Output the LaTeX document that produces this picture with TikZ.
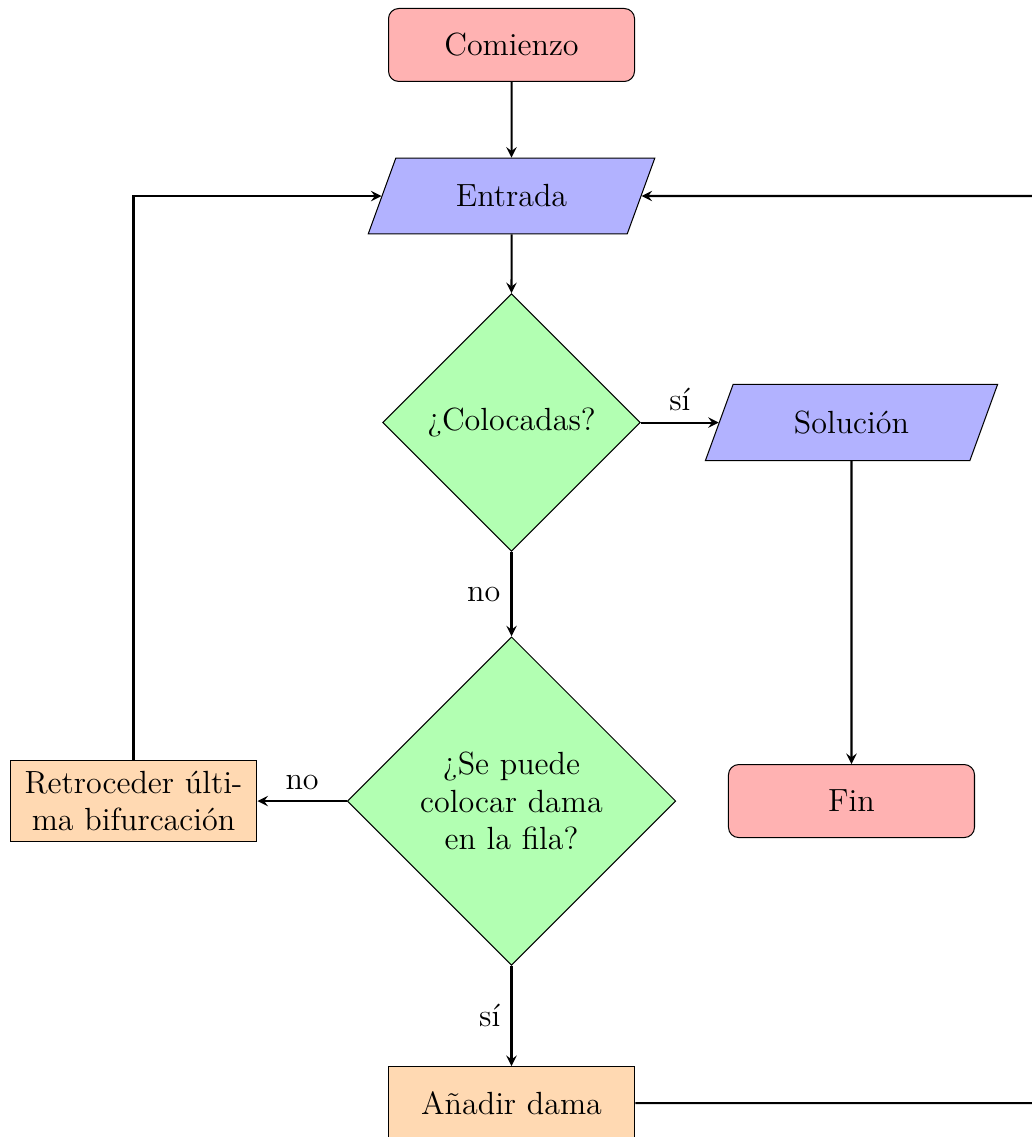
\documentclass[tikz,border=0pt,12pt]{standalone}
\usepackage{amsmath}
\usetikzlibrary{shapes.geometric}
\usetikzlibrary{arrows}

\begin{document}
\begin{tikzpicture}[
    font=\fontsize{12.5}{14.7}\selectfont,
    startstop/.style={rectangle, rounded corners, minimum width=3.37cm, minimum height=1cm, draw=black, fill=red!30},
    io/.style={trapezium, trapezium left angle=70, trapezium right angle=110, minimum width=3.93cm, minimum height=1.02cm, draw=black, fill=blue!30},
    decision/.style={diamond, aspect=1, inner sep=0pt, text width=2.7cm, align=center, draw=black, fill=green!30},
    process/.style={rectangle, minimum width=3.37cm, minimum height=1cm, text width=3.1cm, align=center, draw=black, fill=orange!30},
    arrow/.style={thick, ->, >=stealth}
]
    \useasboundingbox (0, 0) rectangle (14.123, -15.575);
    \node [startstop] (0) at (7.007, -0.616) {Comienzo};
    \node [io] (1) at (7.007, -2.685) {Entrada};
    \node [decision, minimum width=3.53cm, minimum height=3.53cm] (2) at (7.007, -5.788) {¿Colocadas?};
    \node [io, minimum width=4.01cm] (3) at (11.664, -5.788) {Solución};
    \node [startstop] (4) at (11.664, -10.973) {Fin};
    \node [decision, minimum width=4.5cm, minimum height=4.5cm] (5) at (7.007, -10.973) {¿Se puede colocar dama en la fila?};
    \node [process] (6) at (1.829, -10.973) {Retroceder últi-\\ma bifurcación};
    \node [process] (7) at (7.007, -15.11) {Añadir dama};
    \coordinate (8) at (14.6, -2.685); % right loop corner
    % main line
    \draw [arrow] (0) -- (1);
    \draw [arrow] (1) -- (2);
    \draw [arrow] (2) -- node[above] {sí} (3);
    \draw [arrow] (3) -- (4);
    \draw [arrow] (2) -- node[left] {no} (5);
    \draw [arrow] (5) -- node[above] {no} (6);
    \draw [arrow] (5) -- node[left] {sí} (7);
    % loops back to Entrada
    \draw [arrow] (6) |- (1);
    \draw [arrow] (7) -| (8) -- (1);
\end{tikzpicture}
\end{document}
